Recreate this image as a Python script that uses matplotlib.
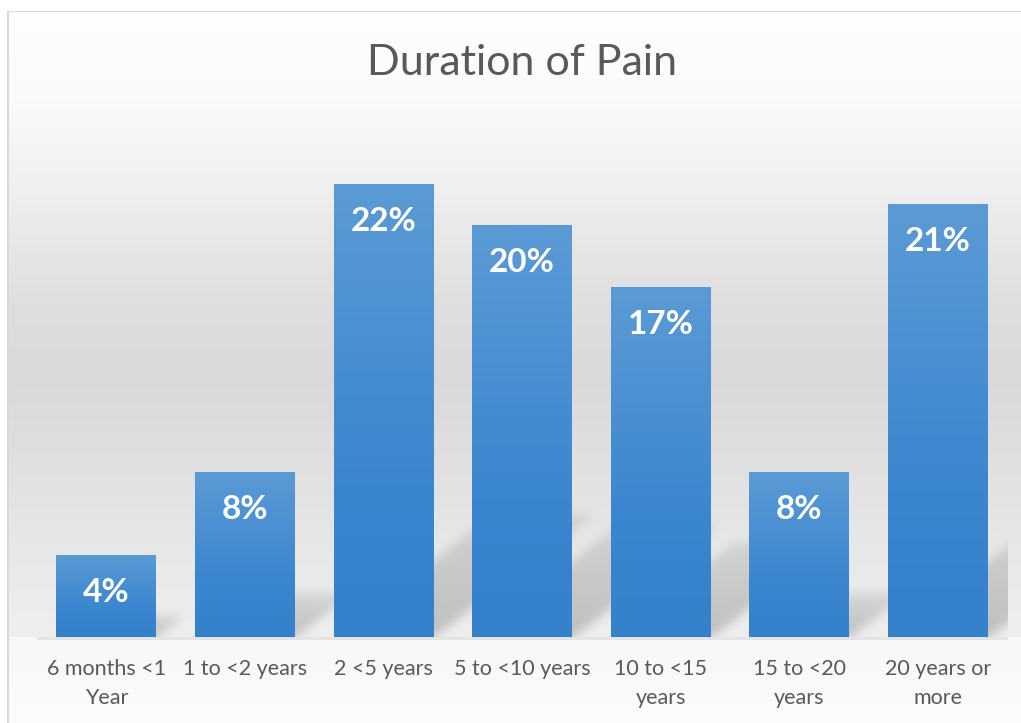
import numpy as np
import matplotlib
matplotlib.use('Agg')
import matplotlib.pyplot as plt
from matplotlib.colors import LinearSegmentedColormap

categories = ["6 months <1\nYear", "1 to <2 years", "2 <5 years", "5 to <10 years",
              "10 to <15\nyears", "15 to <20\nyears", "20 years or\nmore"]
values = [4, 8, 22, 20, 17, 8, 21]
value_labels = ["4%", "8%", "22%", "20%", "17%", "8%", "21%"]
title = "Duration of Pain"

W, H = 1021, 723
DPI = 100
fig = plt.figure(figsize=(W / DPI, H / DPI), dpi=DPI)
fig.patch.set_facecolor('white')

# plot area (pixels)
px0, px1 = 37, 1007
py_top, py_base = 122, 637
ax = fig.add_axes([px0 / W, 1 - py_base / H, (px1 - px0) / W, (py_base - py_top) / H])
ax.set_zorder(2)
ax.patch.set_alpha(0)

bg_ax = fig.add_axes([0, 0, 1, 1])
bg_ax.set_zorder(0)
bg_ax.axis('off')

bar_w = 0.72
n = len(values)
ax.set_xlim(-0.5, n - 0.5)
ax.set_ylim(0, 25)

# ---- background gradient ----
stops_y = [11, 100, 170, 290, 370, 420, 530, 600, 636]
stops_v = [254, 250, 242, 224, 217, 220, 230, 236, 239]
rows = np.arange(H)
g = np.interp(rows, stops_y, stops_v)
below = rows >= py_base
g[below] = np.interp(rows[below], [py_base, H], [247, 252])
img = np.repeat(g[:, None], W, axis=1).astype(float)

# ---- perspective shadows ----
yy, xx = np.mgrid[0:H, 0:W]
shadow = np.zeros((H, W))
A = 0.2
for i, v in enumerate(values):
    (xl, yb_d), (xr, yt_d) = ax.transData.transform([(i - bar_w / 2, 0), (i + bar_w / 2, v)])
    x0, x1 = xl, xr
    yb = H - yb_d
    ytop = H - yt_d
    h = yb - ytop
    dy = 0.27 * h
    dx = 0.35 * h
    t = (yb - yy) / dy
    valid = (t >= 0) & (t <= 1)
    lo = x0 + t * dx
    hi = x1 + t * dx
    inside = valid & (xx >= lo) & (xx <= hi)
    a = np.where(inside, A * (1 - 0.55 * t), 0.0)
    shadow = np.maximum(shadow, a)

sigma = 5.0
r = int(3 * sigma)
k = np.exp(-np.arange(-r, r + 1) ** 2 / (2 * sigma ** 2))
k /= k.sum()
pad = np.pad(shadow, r, mode='constant')
tmp = np.zeros_like(pad)
for j, w in enumerate(k):
    tmp += w * np.roll(pad, j - r, axis=1)
out = np.zeros_like(pad)
for j, w in enumerate(k):
    out += w * np.roll(tmp, j - r, axis=0)
shadow = out[r:-r, r:-r]
shadow[py_base:, :] = 0
shadow[:, :px0] = 0
shadow[:, px1:] = 0
img = img * (1 - shadow)

# light strip at the bottom of the plot area
img[py_base:py_base + 3, px0:px1] = 228

# chart frame
img[:11, :] = 255
img[:, :7] = 255
img[11, 7:] = 217
img[11:, 7:9] = 217

rgb = np.clip(np.stack([img] * 3, axis=-1) / 255.0, 0, 1)
bg_ax.imshow(rgb, extent=[0, W, H, 0], aspect='auto', interpolation='nearest')
bg_ax.set_xlim(0, W)
bg_ax.set_ylim(H, 0)

# ---- bars with gradient ----
blue = LinearSegmentedColormap.from_list('b', ['#3481cc', '#3a86cf', '#4a90d2', '#5b9bd5'])
grad = np.linspace(0, 1, 256)[:, None]
bars = ax.bar(range(n), values, width=bar_w, color='#4a8fd2', zorder=2, linewidth=0)
for i, (b, v) in enumerate(zip(bars, values)):
    im = ax.imshow(grad, extent=[i - bar_w / 2, i + bar_w / 2, 0, v], origin='lower',
                   cmap=blue, aspect='auto', zorder=3, interpolation='bilinear')
    im.set_clip_path(b)
    ax.annotate(value_labels[i], (i, v), xytext=(0, -27), textcoords='offset points',
                ha='center', va='center', color='white', fontsize=24,
                fontweight='bold', family='Lato', zorder=4)

ax.set_xlim(-0.5, n - 0.5)
ax.set_ylim(0, 25)
for s in ['top', 'right', 'left', 'bottom']:
    ax.spines[s].set_visible(False)
ax.set_yticks([])
ax.set_xticks(range(n))
ax.set_xticklabels(categories, fontsize=15.5, color='#595959', family='Lato', linespacing=1.55)
ax.tick_params(axis='x', length=0, pad=16)

fig.text(522 / W, 1 - 63 / H, title, ha='center', va='center', fontsize=31,
         color='#595959', family='Lato', fontweight='normal')

fig.savefig('out.png', dpi=DPI)
